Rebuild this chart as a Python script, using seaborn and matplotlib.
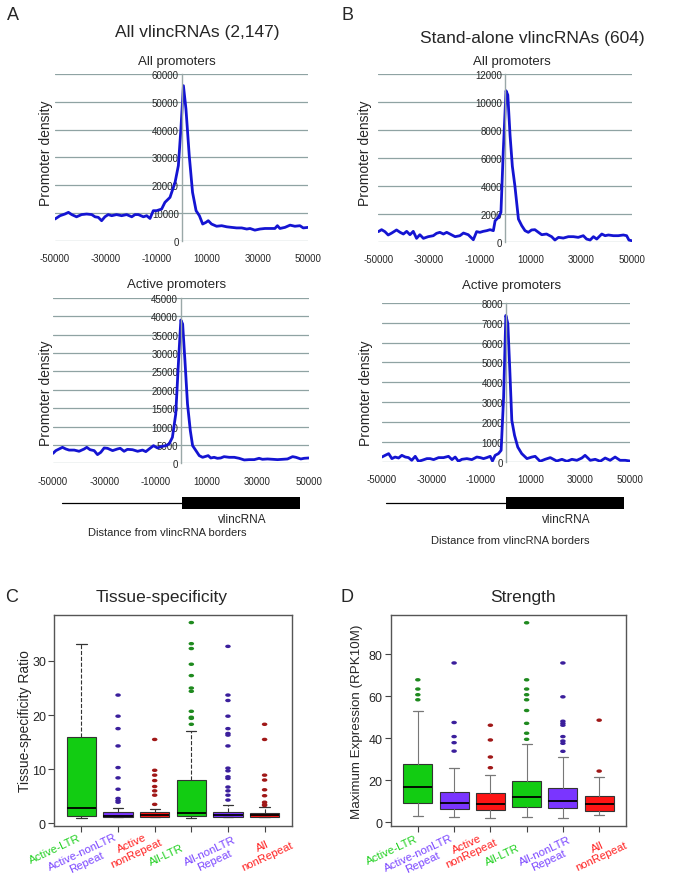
import numpy as np
import pandas as pd
import matplotlib
matplotlib.use("Agg")
import matplotlib.pyplot as plt
import seaborn as sns
from matplotlib.patches import Rectangle
from matplotlib.lines import Line2D
from matplotlib.path import Path
from matplotlib.transforms import Affine2D

# ---- data: promoter density profiles (position in kb, density) ----
a_all_kb = [-50.0, -48.0, -46.1, -44.7, -43.4, -41.5, -39.5, -37.5, -35.5, -34.2, -32.9, -31.6,
            -30.3, -29.0, -27.6, -25.7, -23.7, -21.7, -19.7, -18.4, -17.1, -15.1, -13.8, -12.5,
            -11.2, -9.9, -7.9, -6.6, -4.6, -2.6, -1.3, -0.3, 0.7, 1.7, 3.0, 4.3, 5.7, 7.0, 8.3,
            9.6, 10.5, 11.8, 13.8, 15.8, 17.8, 19.7, 21.7, 23.7, 25.7, 27.0, 28.9, 30.9, 32.9,
            34.9, 36.8, 37.8, 38.8, 40.8, 42.8, 44.7, 46.7, 48.0, 50.0]
a_all_dens = [7800, 9000, 9600, 10200, 9400, 8600, 9400, 9600, 9400, 8600, 8400, 7200,
              8600, 9400, 9000, 9400, 9000, 9400, 8600, 9400, 9400, 8600, 9000, 8000,
              10800, 10800, 11400, 13800, 15600, 21000, 27000, 40200, 55800, 47400, 30600, 17400,
              10800, 9000, 6000, 6600, 7200, 6000, 5200, 5400, 5000, 4800, 4600, 4600, 4200,
              4400, 3800, 4200, 4400, 4400, 4400, 5400, 4400, 4800, 5600, 5200, 5400, 4600, 4800]

a_act_kb = [-50.0, -48.9, -47.6, -46.3, -45.0, -43.7, -41.7, -39.8, -37.8, -36.8, -35.5, -33.9,
            -32.6, -31.3, -30.0, -28.7, -26.7, -24.8, -23.7, -22.2, -20.9, -18.9, -16.9, -15.0,
            -13.7, -12.4, -10.7, -9.1, -7.8, -5.9, -4.6, -3.3, -2.0, -0.9, 0.0, 0.7, 1.6, 2.6,
            3.7, 4.6, 5.9, 7.2, 8.5, 9.8, 10.7, 11.7, 13.0, 14.3, 15.6, 16.9, 18.9, 20.9, 22.8,
            24.8, 26.7, 28.7, 30.6, 31.9, 33.9, 35.9, 37.8, 39.8, 41.7, 43.7, 45.0, 46.9, 48.2, 50.0]
a_act_dens = [2700, 3450, 3900, 4350, 3900, 3600, 3600, 3270, 3900, 4350, 3700, 3450,
              2360, 3000, 4170, 4080, 3450, 3900, 4080, 3270, 3800, 3700, 3270, 3600,
              3180, 3900, 4800, 4170, 4540, 4800, 5260, 7080, 13400, 27950, 39000, 37900, 27950,
              16150, 8900, 4800, 3450, 2090, 1630, 1900, 2090, 1450, 1630, 1360, 1450, 1810,
              1630, 1630, 1360, 910, 1000, 1000, 1360, 1090, 1180, 1090, 1000, 1090, 1180,
              1810, 1630, 1180, 1360, 1450]

b_all_kb = [-50.0, -48.7, -47.4, -46.1, -44.7, -42.8, -41.4, -40.1, -38.8, -37.5, -36.2, -34.9,
            -33.6, -32.2, -30.3, -28.3, -27.0, -25.7, -24.3, -23.0, -21.7, -19.7, -17.8, -16.4,
            -14.5, -12.5, -11.2, -9.9, -8.6, -7.2, -5.9, -4.6, -3.9, -2.6, -1.6, -0.7, 0.4, 1.1,
            2.0, 2.9, 3.9, 5.3, 6.6, 7.9, 9.2, 10.5, 11.8, 13.2, 14.5, 16.4, 18.4, 19.7, 21.1,
            23.0, 25.0, 27.0, 28.9, 30.9, 32.2, 33.6, 34.9, 36.2, 38.2, 39.5, 40.8, 42.8, 44.7,
            46.7, 48.0, 48.9, 50.0]
b_all_dens = [720, 860, 720, 480, 620, 840, 670, 550, 740, 500, 740, 240,
              500, 240, 360, 430, 600, 670, 550, 670, 550, 360, 430, 620,
              500, 140, 720, 670, 740, 790, 860, 790, 1500, 1740, 2100, 6400, 10800, 10500,
              7600, 5400, 4000, 1620, 1150, 790, 670, 840, 860, 670, 500, 550, 360, 120, 310,
              260, 360, 360, 310, 430, 190, 120, 360, 190, 550, 430, 480, 430, 430,
              480, 430, 120, 70]

b_act_kb = [-49.9, -48.6, -47.2, -45.9, -44.6, -43.2, -41.9, -40.5, -39.2, -37.9, -36.5, -35.2,
            -33.8, -31.8, -30.5, -29.1, -27.1, -25.1, -23.1, -21.7, -20.4, -19.1, -17.7, -15.7,
            -13.7, -11.7, -10.3, -9.0, -7.7, -6.3, -5.4, -4.3, -3.0, -1.9, -0.9, 0.0, 0.8, 1.6,
            2.4, 3.5, 4.8, 6.4, 8.5, 10.5, 11.8, 13.8, 15.8, 17.9, 19.2, 20.5, 22.6, 24.6, 26.6,
            28.6, 30.6, 31.9, 34.0, 36.0, 38.0, 40.0, 42.0, 44.0, 46.0, 48.1, 50.0]
b_act_dens = [250, 335, 420, 170, 250, 200, 335, 250, 220, 85, 285, 35,
              85, 170, 170, 120, 220, 220, 285, 120, 250, 35, 135, 170,
              120, 250, 220, 170, 220, 285, 50, 335, 420, 585, 3260, 7360, 6950, 4600,
              2090, 1340, 750, 420, 170, 250, 285, 35, 135, 220, 135, 50, 135, 35, 135,
              85, 200, 335, 85, 135, 35, 200, 85, 250, 85, 85, 50]

x_ticks = [-50000, -30000, -10000, 10000, 30000, 50000]

# ---- data: box plots ----
groups = ["Active-LTR", "Active-nonLTR\nRepeat", "Active\nnonRepeat",
          "All-LTR", "All-nonLTR\nRepeat", "All\nnonRepeat"]

ts_whislo = [1.05, 1.1, 1.1, 1.05, 1.1, 1.1]
ts_q1 = [1.35, 1.2, 1.2, 1.35, 1.2, 1.2]
ts_med = [2.8, 1.4, 1.5, 1.85, 1.5, 1.45]
ts_q3 = [15.9, 2.0, 2.0, 8.0, 2.15, 1.9]
ts_whishi = [33.2, 2.9, 2.6, 17.0, 3.3, 3.1]
ts_outliers = [
    [],
    [23.7, 19.8, 17.5, 14.3, 10.3, 8.4, 6.3, 4.6, 4.2, 3.9],
    [15.5, 9.8, 8.9, 7.9, 6.8, 6.0, 5.2, 3.5],
    [37.1, 33.2, 32.3, 29.4, 27.3, 25.0, 24.4, 20.7, 19.6, 19.4, 18.3],
    [32.7, 23.7, 22.7, 19.8, 17.5, 16.6, 16.3, 14.3, 10.2, 9.7, 8.6, 8.3, 6.7, 6.0, 5.2, 4.3],
    [18.3, 15.5, 8.9, 8.0, 6.2, 5.1, 3.9, 3.5, 3.3],
]

st_whislo = [3.2, 2.4, 2.1, 2.5, 2.1, 3.7]
st_q1 = [9.2, 6.4, 6.1, 7.3, 6.7, 5.6]
st_med = [17.0, 9.2, 8.9, 12.3, 10.2, 8.9]
st_q3 = [27.9, 14.5, 13.9, 19.9, 16.4, 12.7]
st_whishi = [53.2, 26.0, 22.6, 37.4, 31.2, 21.5]
st_outliers = [
    [67.8, 63.4, 60.7, 58.3],
    [75.8, 47.5, 40.8, 37.9, 33.9],
    [46.2, 39.2, 31.1, 26.0],
    [94.9, 67.8, 63.4, 60.7, 58.3, 53.2, 47.1, 42.4, 39.5],
    [75.8, 59.7, 48.1, 47.1, 46.2, 40.8, 38.7, 37.6, 33.8],
    [48.6, 24.4],
]

# ---- style ----
sns.set_style("white")
plt.rcParams["font.family"] = ["Liberation Sans", "DejaVu Sans"]
plt.rcParams["axes.unicode_minus"] = False

CURVE = "#1414d2"
GRID = "#8fa3a3"
BOX_FILL = ["#12cc12", "#7a35ff", "#ff1414"] * 2
DOT = ["#1f8a1f", "#3b1f9c", "#a01818"] * 2
LABEL_C = ["#20d020", "#7a45ff", "#ff2020"] * 2
# label nudges (px): right/top corner of each rotated group label vs. its tick
LABEL_DX = [-3, -4, 0, -10, 5, 21]
LABEL_DY = [7, 6, 1, 16, 8, 4]

W, H = 685, 895
fig = plt.figure(figsize=(6.85, 8.95), dpi=100)


def rect(l, t, r, b):
    return [l / W, 1 - b / H, (r - l) / W, (b - t) / H]


def ftext(x, y, s, **kw):
    fig.text(x / W, 1 - y / H, s, ha=kw.pop("ha", "center"), va=kw.pop("va", "center"), **kw)


def density_panel(box, kb, dens, ymax, ystep):
    ax = fig.add_axes(rect(*box))
    sns.lineplot(x=np.array(kb) * 1000, y=dens, ax=ax, color=CURVE, lw=2.0)
    ax.set_xlim(-50000, 50000)
    ax.set_ylim(0, ymax)
    ax.set_xticks(x_ticks)
    ax.set_yticks(np.arange(0, ymax + 1, ystep))
    ax.grid(axis="y", color=GRID, lw=0.9)
    ax.grid(axis="x", visible=False)
    ax.set_axisbelow(True)
    for s in ["top", "right", "bottom"]:
        ax.spines[s].set_visible(False)
    ax.spines["left"].set_position(("data", 0))
    ax.spines["left"].set_color("#9aa8a8")
    ax.spines["left"].set_linewidth(1.0)
    ax.tick_params(axis="y", length=0, pad=2, labelsize=7)
    ax.tick_params(axis="x", length=0, pad=9, labelsize=7)
    ax.set_xlabel("")
    ax.set_ylabel("")
    ax.patch.set_alpha(0)
    return ax


def gene_sketch(x0, xmid, x1):
    fig.add_artist(Line2D([x0 / W, xmid / W], [1 - 503.5 / H] * 2, color="black", lw=0.9))
    fig.add_artist(Rectangle((xmid / W, 1 - 510 / H), (x1 - xmid) / W, 12 / H,
                             color="black", lw=0))


def box_panel(box, whislo, q1, med, q3, whishi, outliers, ylim, yticks, ylabel, ylsize,
              ylpad, dashed):
    ax = fig.add_axes(rect(*box))
    stats = [dict(whislo=a, q1=b, med=c, q3=d, whishi=e, fliers=[])
             for a, b, c, d, e in zip(whislo, q1, med, q3, whishi)]
    wcol = "#333333" if dashed else "#777777"
    bp = ax.bxp(stats, positions=range(1, 7), widths=0.8, patch_artist=True,
                showfliers=False, capwidths=0.28,
                boxprops=dict(edgecolor="#333333", lw=0.8),
                medianprops=dict(color="black", lw=1.3),
                whiskerprops=dict(color=wcol, lw=0.8, ls="--" if dashed else "-"),
                capprops=dict(color=wcol, lw=0.9))
    for patch, c in zip(bp["boxes"], BOX_FILL):
        patch.set_facecolor(c)
    rows = [(i + 1, v, i) for i, vals in enumerate(outliers) for v in vals]
    df = pd.DataFrame(rows, columns=["pos", "value", "grp"])
    ellipse = Path.unit_circle().transformed(Affine2D().scale(1.6, 1.0))
    sns.scatterplot(data=df, x="pos", y="value", hue="grp", palette=dict(enumerate(DOT)),
                    marker=ellipse, s=16, linewidth=0, legend=False, ax=ax, zorder=3)
    ax.set_xlim(0.26, 6.74)
    ax.set_ylim(*ylim)
    ax.set_yticks(yticks)
    ax.set_xticks(range(1, 7))
    ax.set_xticklabels([])
    for i, (g, c) in enumerate(zip(groups, LABEL_C)):
        ax.annotate(g, xy=(i + 1, 0), xycoords=("data", "axes fraction"),
                    xytext=(LABEL_DX[i] * 0.72, -LABEL_DY[i] * 0.72), textcoords="offset points",
                    ha="right", va="top", rotation=25, rotation_mode="anchor",
                    multialignment="center", fontsize=8.2, color=c, linespacing=1.05)
    ax.tick_params(axis="both", direction="out", length=4, width=0.8, color="#444444",
                   bottom=True, left=True)
    ax.tick_params(axis="y", labelsize=9, pad=2)
    for s in ax.spines.values():
        s.set_color("#555555")
        s.set_linewidth(1.0)
    ax.set_xlabel("")
    ax.set_ylabel(ylabel, fontsize=ylsize, labelpad=ylpad)
    return ax


# ---- panel A ----
ftext(13, 15, "A", fontsize=13)
ftext(197, 33, "All vlincRNAs (2,147)", fontsize=12.5)
ftext(177, 62, "All promoters", fontsize=9.5)
density_panel((55, 75, 308.3, 241.7), a_all_kb, a_all_dens, 60000, 10000)
ftext(46, 153, "Promoter density", fontsize=10, rotation=90)
ftext(177, 285, "Active promoters", fontsize=9.5)
density_panel((53, 299, 308.7, 464.3), a_act_kb, a_act_dens, 45000, 5000)
ftext(46, 393, "Promoter density", fontsize=10, rotation=90)
gene_sketch(62, 182, 300)
ftext(242, 520, "vlincRNA", fontsize=8.5)
ftext(167, 533, "Distance from vlincRNA borders", fontsize=8)

# ---- panel B ----
ftext(348, 15, "B", fontsize=13)
ftext(532, 38, "Stand-alone vlincRNAs (604)", fontsize=12.5)
ftext(512, 62, "All promoters", fontsize=9.5)
density_panel((378.3, 75, 631.7, 242.7), b_all_kb, b_all_dens, 12000, 2000)
ftext(365, 153, "Promoter density", fontsize=10, rotation=90)
ftext(512, 286, "Active promoters", fontsize=9.5)
density_panel((381.7, 303.7, 630, 463), b_act_kb, b_act_dens, 8000, 1000)
ftext(366, 393, "Promoter density", fontsize=10, rotation=90)
gene_sketch(386, 506, 624)
ftext(566, 520, "vlincRNA", fontsize=8.5)
ftext(510, 541, "Distance from vlincRNA borders", fontsize=8)

# ---- panel C ----
ftext(12, 597, "C", fontsize=13)
ftext(162, 598, "Tissue-specificity", fontsize=12.5)
box_panel((54.3, 616, 291.7, 826.7), ts_whislo, ts_q1, ts_med, ts_q3, ts_whishi, ts_outliers,
          (-0.44, 38.5), [0, 10, 20, 30], "Tissue-specificity Ratio", 10, 0, dashed=True)

# ---- panel D ----
ftext(347, 597, "D", fontsize=13)
ftext(523, 598, "Strength", fontsize=12.5)
box_panel((391, 616, 626, 827), st_whislo, st_q1, st_med, st_q3, st_whishi, st_outliers,
          (-1.7, 98.6), [0, 20, 40, 60, 80], "Maximum Expression (RPK10M)", 9.6, 4,
          dashed=False)

fig.savefig("out.png", dpi=100, facecolor="white")
